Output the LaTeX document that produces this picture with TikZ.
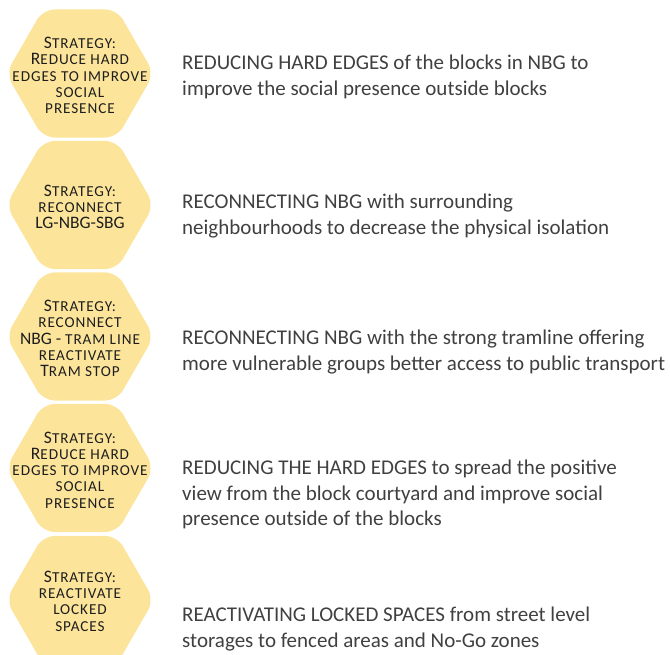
\documentclass[tikz,border=0pt]{standalone}
\usepackage{fontspec}
\setmainfont{Carlito}
\usepackage{xcolor}
\usetikzlibrary{shapes.geometric,positioning}
\definecolor{hexyellow}{RGB}{252,229,155}
\definecolor{hexink}{RGB}{30,30,30}
\definecolor{descgray}{RGB}{64,64,64}
% fake small caps: upper case letters at a smaller size
\newcommand{\smc}[1]{{\fontsize{15.2}{16.3}\selectfont\addfontfeature{LetterSpace=6}#1}}

\begin{document}
\begin{tikzpicture}[x=1pt, y=-1pt,
    hexa/.style={regular polygon, regular polygon sides=6,
        minimum size=148pt, inner sep=0pt, fill=hexyellow, rounded corners=12pt},
    hextext/.style={align=center, text=hexink, inner sep=0pt, font=\fontsize{17.5}{16.3}\selectfont},
    desc/.style={align=left, text=descgray, inner sep=0pt, anchor=north west, font=\fontsize{21}{25.5}\selectfont},
]
    \useasboundingbox (0,0) rectangle (670,654);
    \clip (0,0) rectangle (670,654);

    % Hexagons down the left side
    \foreach \i/\cy in {1/73.5, 2/205, 3/336.5, 4/468, 5/600} {
        \node[hexa] (h\i) at (80,\cy) {};
    }

    % Strategy labels
    \node[hextext] (s1) at ([yshift=-2pt]h1.center) {S\smc{TRATEGY:}\\ R\smc{EDUCE HARD}\\ \smc{EDGES TO IMPROVE}\\ \smc{SOCIAL}\\ \smc{PRESENCE}};
    \node[hextext] (s2) at ([yshift=-2pt]h2.center) {S\smc{TRATEGY:}\\ \smc{RECONNECT}\\ LG-NBG-SBG};
    \node[hextext] (s3) at ([yshift=-2pt]h3.center) {S\smc{TRATEGY:}\\ \smc{RECONNECT}\\ NBG - \smc{TRAM LINE}\\ \smc{REACTIVATE}\\ T\smc{RAM STOP}};
    \node[hextext] (s4) at ([yshift=-2pt]h4.center) {S\smc{TRATEGY:}\\ R\smc{EDUCE HARD}\\ \smc{EDGES TO IMPROVE}\\ \smc{SOCIAL}\\ \smc{PRESENCE}};
    \node[hextext] (s5) at ([yshift=-1pt]h5.center) {S\smc{TRATEGY:}\\ \smc{REACTIVATE}\\ \smc{LOCKED}\\ \smc{SPACES}};

    % Descriptions on the right
    \node[desc] (d1) at (182,55) {REDUCING HARD EDGES of the blocks in NBG to\\ improve the social presence outside blocks};
    \node[desc] (d2) at (182,194) {RECONNECTING NBG with surrounding\\ neighbourhoods to decrease the physical isolation};
    \node[desc] (d3) at (182,330) {RECONNECTING NBG with the strong tramline offering\\ more vulnerable groups better access to public transport};
    \node[desc] (d4) at (182,460) {REDUCING THE HARD EDGES to spread the positive\\ view from the block courtyard and improve social\\ presence outside of the blocks};
    \node[desc] (d5) at (182,607) {REACTIVATING LOCKED SPACES from street level\\ storages to fenced areas and No-Go zones};
\end{tikzpicture}
\end{document}
